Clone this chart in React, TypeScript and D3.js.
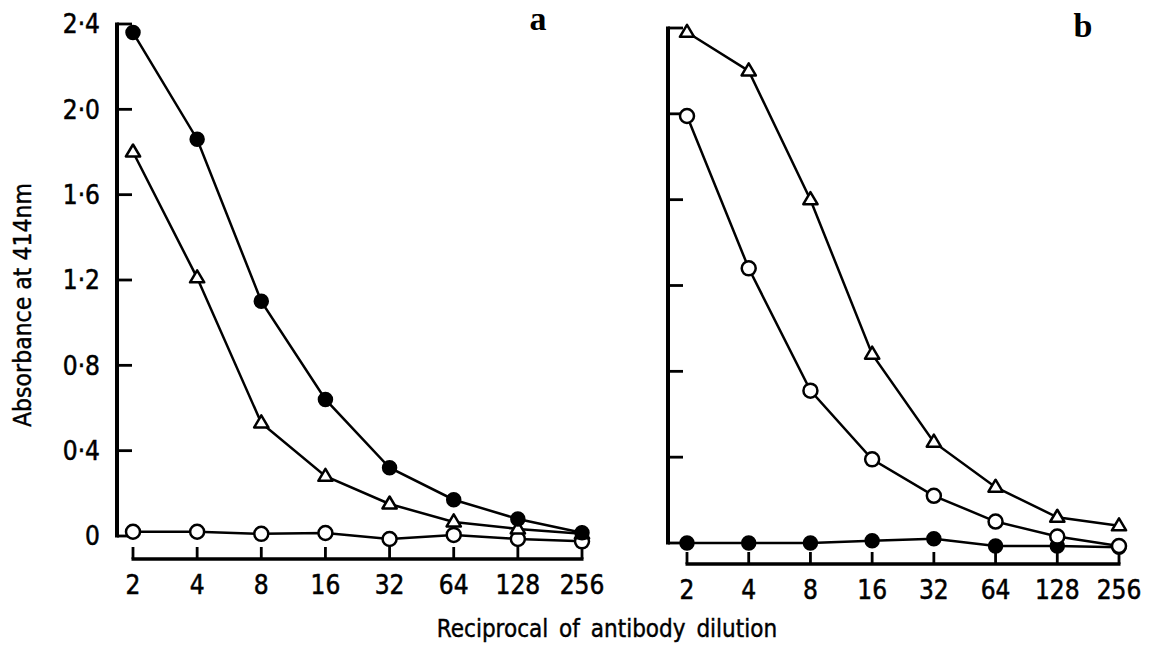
import React from 'react';
import * as d3 from 'd3';

// reciprocal of antibody dilution
const dilutions = [2, 4, 8, 16, 32, 64, 128, 256];
const yTicks = [0, 0.4, 0.8, 1.2, 1.6, 2.0, 2.4];
const yTickLabels = ['0', '0·4', '0·8', '1·2', '1·6', '2·0', '2·4'];

// panel a
const aFilled = [2.36, 1.86, 1.1, 0.64, 0.32, 0.17, 0.08, 0.015];
const aTriangle = [1.8, 1.21, 0.53, 0.28, 0.15, 0.066, 0.033, 0.01];
const aOpen = [0.02, 0.02, 0.01, 0.014, -0.014, 0.005, -0.014, -0.025];

// panel b
const bFilled = [0.0, 0.0, 0.0, 0.01, 0.02, -0.014, -0.014, -0.02];
const bTriangle = [2.38, 2.2, 1.6, 0.88, 0.47, 0.26, 0.12, 0.08];
const bOpen = [1.99, 1.28, 0.71, 0.39, 0.22, 0.1, 0.03, -0.014];

const FONT = '"Liberation Sans Narrow", "DejaVu Sans Condensed", "DejaVu Sans", sans-serif';

type Series = { values: number[]; marker: 'filled' | 'open' | 'triangle' };

const Marker = ({ kind, cx, cy }: { kind: string; cx: number; cy: number }) => {
    if (kind === 'triangle') {
        const s = 7.5;
        const pts = [
            [cx, cy - s],
            [cx - s * 0.95, cy + s * 0.6],
            [cx + s * 0.95, cy + s * 0.6],
        ];
        return <polygon points={pts.map(p => p.join(',')).join(' ')} fill="#fff" stroke="#000" strokeWidth={2.5} strokeLinejoin="round" />;
    }
    return (
        <circle
            cx={cx}
            cy={cy}
            r={kind === 'filled' ? 6.5 : 7}
            fill={kind === 'filled' ? '#000' : '#fff'}
            stroke="#000"
            strokeWidth={2.5}
        />
    );
};

const Panel = ({
    xRange,
    yRange,
    axisX,
    axisY,
    series,
    showYLabels,
    label,
    labelX,
    labelY,
}: {
    xRange: [number, number];
    yRange: [number, number];
    axisX: number;
    axisY: number;
    series: Series[];
    showYLabels: boolean;
    label: string;
    labelX: number;
    labelY: number;
}) => {
    const x = d3.scaleLog().base(2).domain([2, 256]).range(xRange);
    const y = d3.scaleLinear().domain([0, 2.4]).range(yRange);
    const line = d3
        .line<number>()
        .x((d, i) => x(dilutions[i]))
        .y(d => y(d));

    return (
        <g>
            {/* y axis */}
            <line x1={axisX} x2={axisX} y1={y(2.4) - 1.5} y2={y(0) + 1.5} stroke="#000" strokeWidth={4} />
            {yTicks.map((t, i) => (
                <g key={t}>
                    <line x1={axisX} x2={axisX + 15} y1={y(t)} y2={y(t)} stroke="#000" strokeWidth={2.8} />
                    {showYLabels && (
                        <text
                            x={axisX - 17}
                            y={y(t)}
                            dy="0.36em"
                            textAnchor="end"
                            fontFamily={FONT}
                            fontSize={26}
                            stroke="#000"
                            strokeWidth={0.5}
                        >
                            {yTickLabels[i]}
                        </text>
                    )}
                </g>
            ))}
            {/* x axis */}
            <line x1={x(2) - 1.5} x2={x(256) + 1.5} y1={axisY} y2={axisY} stroke="#000" strokeWidth={3.5} />
            {dilutions.map(d => (
                <g key={d}>
                    <line x1={x(d)} x2={x(d)} y1={axisY} y2={axisY - 12} stroke="#000" strokeWidth={2.8} />
                    <text
                        x={x(d)}
                        y={axisY + 35}
                        textAnchor="middle"
                        fontFamily={FONT}
                        fontSize={26}
                        stroke="#000"
                        strokeWidth={0.5}
                    >
                        {d}
                    </text>
                </g>
            ))}
            {series.map((s, si) => (
                <g key={si}>
                    <path d={line(s.values) || ''} fill="none" stroke="#000" strokeWidth={2.5} />
                    {s.values.map((v, i) => (
                        <Marker key={i} kind={s.marker} cx={x(dilutions[i])} cy={y(v)} />
                    ))}
                </g>
            ))}
            <text
                x={labelX}
                y={labelY}
                textAnchor="middle"
                fontFamily='"Liberation Serif", "DejaVu Serif", serif'
                fontWeight="bold"
                fontSize={34}
            >
                {label}
            </text>
        </g>
    );
};

const App = () => {
    return (
        <svg
            width={1161}
            height={654}
            style={{ position: 'absolute', left: 0, top: 0, background: '#fff' }}
        >
            <Panel
                xRange={[133, 582]}
                yRange={[536, 24]}
                axisX={117}
                axisY={559}
                showYLabels={true}
                label="a"
                labelX={538}
                labelY={30}
                series={[
                    { values: aOpen, marker: 'open' },
                    { values: aTriangle, marker: 'triangle' },
                    { values: aFilled, marker: 'filled' },
                ]}
            />
            <Panel
                xRange={[687, 1119]}
                yRange={[543, 28]}
                axisX={668}
                axisY={564}
                showYLabels={false}
                label="b"
                labelX={1083}
                labelY={37}
                series={[
                    { values: bFilled, marker: 'filled' },
                    { values: bOpen, marker: 'open' },
                    { values: bTriangle, marker: 'triangle' },
                ]}
            />
            <text
                x={22}
                y={305}
                transform="rotate(-90, 22, 305)"
                textAnchor="middle"
                dy="0.35em"
                fontFamily={FONT}
                fontSize={24.5}
                stroke="#000"
                strokeWidth={0.4}
            >
                Absorbance at 414nm
            </text>
            <text
                x={607}
                y={637}
                textAnchor="middle"
                fontFamily={FONT}
                fontSize={24}
                wordSpacing={4}
                stroke="#000"
                strokeWidth={0.4}
            >
                Reciprocal of antibody dilution
            </text>
        </svg>
    );
};

export default App;
